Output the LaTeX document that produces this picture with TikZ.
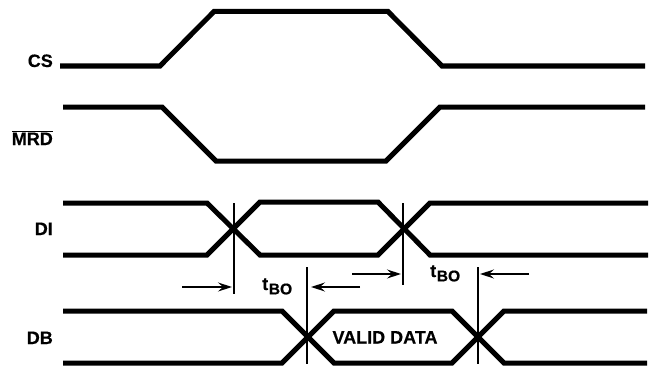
\documentclass[tikz,border=0pt]{standalone}
\usepackage{fontspec}
\setmainfont[BoldFeatures={FakeBold=0.35}]{Liberation Sans}
\usetikzlibrary{arrows.meta}
\newcommand{\tbo}{t\kern0.6pt\raisebox{-4.4pt}{\fontsize{15.6}{16}\selectfont BO}}
\tikzset{
  x=1pt,y=-1pt,
  signal/.style={line width=5pt,line join=miter,line cap=butt},
  guide/.style={line width=1.4pt},
  dim/.style={line width=1.3pt,-{Stealth[length=14pt,width=9pt,inset=5pt]}},
  lab/.style={font=\fontsize{18}{18}\selectfont\bfseries,inner sep=0pt,text=black}
}
\begin{document}
\begin{tikzpicture}
\useasboundingbox (0,0) rectangle (650,369);
% CS
\draw[signal] (60,66) -- (160,66) -- (214,11.5) -- (388,11.5) -- (442,66) -- (645,66);
% MRD
\draw[signal] (63,107) -- (162,107) -- (216,161) -- (386,161) -- (440,107) -- (645,107);
% DI
\draw[signal] (63,203) -- (207,203) -- (260,255) -- (378,255) -- (430,203) -- (648,203);
\draw[signal] (63,255) -- (207,255) -- (260,202) -- (378,202) -- (430,255) -- (648,255);
% DB
\draw[signal] (63,311) -- (282,311) -- (334,363) -- (452,363) -- (504,311) -- (647,311);
\draw[signal] (63,363) -- (282,363) -- (334,311) -- (452,311) -- (504,363) -- (647,363);
% guides
\coordinate (g1a) at (234,203); \coordinate (g1b) at (234,294);
\coordinate (g2a) at (307,267); \coordinate (g2b) at (307,364);
\coordinate (g3a) at (403,203); \coordinate (g3b) at (403,285);
\coordinate (g4a) at (478,267); \coordinate (g4b) at (478,364);
\draw[guide] (g1a) -- (g1b);
\draw[guide] (g2a) -- (g2b);
\draw[guide] (g3a) -- (g3b);
\draw[guide] (g4a) -- (g4b);
% arrows
\coordinate (a1) at (182,287); \coordinate (a1e) at (232,287);
\coordinate (a2) at (360,287); \coordinate (a2e) at (311,287);
\coordinate (a3) at (352,274); \coordinate (a3e) at (401,274);
\coordinate (a4) at (529,274); \coordinate (a4e) at (480,274);
\draw[dim] (a1) -- (a1e);
\draw[dim] (a2) -- (a2e);
\draw[dim] (a3) -- (a3e);
\draw[dim] (a4) -- (a4e);
% labels
\node[lab,anchor=base east] (cs) at (53,67) {CS};
\node[lab,anchor=base east] (mrd) at (53,145) {$\overline{\mbox{MRD}}$};
\node[lab,anchor=base east] (di) at (53,235) {DI};
\node[lab,anchor=base east] (db) at (53,344) {DB};
\node[lab,anchor=base] (vd) at (385,343.5) {VALID DATA};
\node[lab,anchor=base west] (t1) at (262,290) {\tbo};
\node[lab,anchor=base west] (t2) at (430,277) {\tbo};
\end{tikzpicture}
\end{document}
